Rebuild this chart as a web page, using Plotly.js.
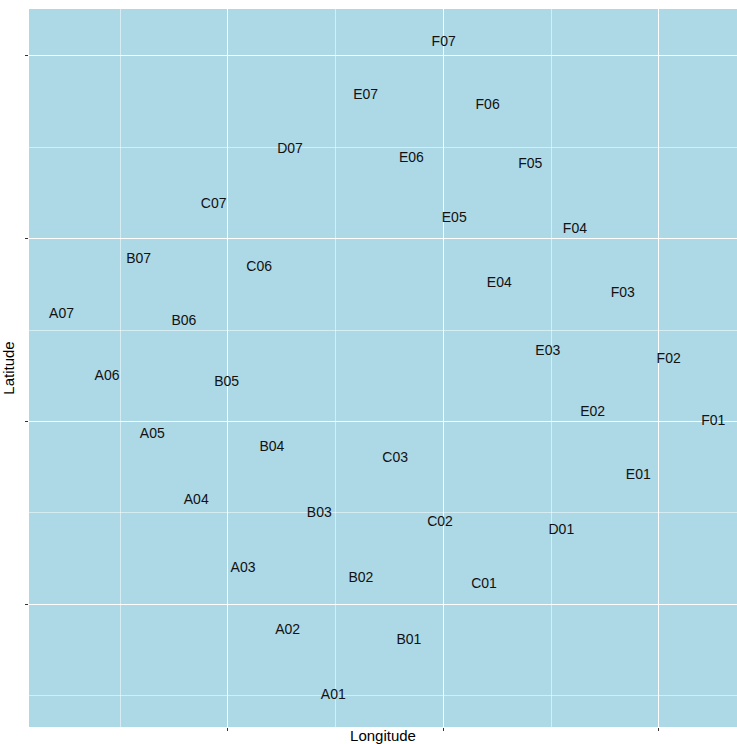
<!DOCTYPE html>
<html>
<head>
<meta charset="utf-8">
<script src="https://cdn.plot.ly/plotly-3.0.1.min.js"></script>
<style>html,body{margin:0;padding:0;background:#fff;}#chart{width:737px;height:744px;}</style>
</head>
<body>
<div id="chart"></div>
<script>
const labels = ["A01","A02","A03","A04","A05","A06","A07",
  "B01","B02","B03","B04","B05","B06","B07",
  "C01","C02","C03","C06","C07",
  "D01","D07",
  "E01","E02","E03","E04","E05","E06","E07",
  "F01","F02","F03","F04","F05","F06","F07"];
const longitude = [0.489,0.277,0.070,-0.147,-0.351,-0.561,-0.772,
  0.840,0.617,0.424,0.204,-0.006,-0.204,-0.414,
  1.188,0.984,0.776,0.145,-0.066,
  1.547,0.288,
  1.904,1.692,1.484,1.259,1.050,0.851,0.639,
  2.252,2.045,1.832,1.610,1.403,1.205,1.001];
const latitude = [-0.498,-0.146,0.197,0.565,0.927,1.248,1.587,
  -0.197,0.142,0.493,0.858,1.210,1.544,1.888,
  0.106,0.449,0.794,1.841,2.186,
  0.401,2.487,
  0.702,1.047,1.385,1.753,2.109,2.436,2.782,
  0.998,1.341,1.698,2.049,2.405,2.731,3.071];

const trace = {
  x: longitude, y: latitude, text: labels,
  type: 'scatter', mode: 'text', textposition: 'middle center',
  textfont: {family: 'Liberation Sans, Arial, sans-serif', size: 14, color: '#111111'},
  hoverinfo: 'none', showlegend: false
};

const axisCommon = {
  showticklabels: false, ticks: 'outside', ticklen: 3, tickwidth: 1, tickcolor: '#333333',
  showgrid: true, gridcolor: '#ffffff', gridwidth: 1, zeroline: false, showline: false,
  dtick: 1, tick0: 0, fixedrange: true,
  minor: {dtick: 0.5, tick0: 0, showgrid: true, gridcolor: '#ffffff', gridwidth: 0.5, ticks: ''}
};

const layout = {
  width: 737, height: 744,
  margin: {l: 29, r: 0, t: 9, b: 17, pad: 0},
  paper_bgcolor: '#ffffff', plot_bgcolor: '#ADD8E6',
  font: {family: 'Liberation Sans, Arial, sans-serif', color: '#000000'},
  xaxis: Object.assign({}, axisCommon, {
    range: [-0.923, 2.362], automargin: false,
    title: {text: 'Longitude', font: {size: 15, color: '#000000'}, standoff: 5}
  }),
  yaxis: Object.assign({}, axisCommon, {
    range: [-0.673, 3.257], automargin: false,
    title: {text: 'Latitude', font: {size: 15, color: '#000000'}, standoff: 6}
  })
};

Plotly.newPlot('chart', [trace], layout, {displayModeBar: false, staticPlot: true});
</script>
</body>
</html>
